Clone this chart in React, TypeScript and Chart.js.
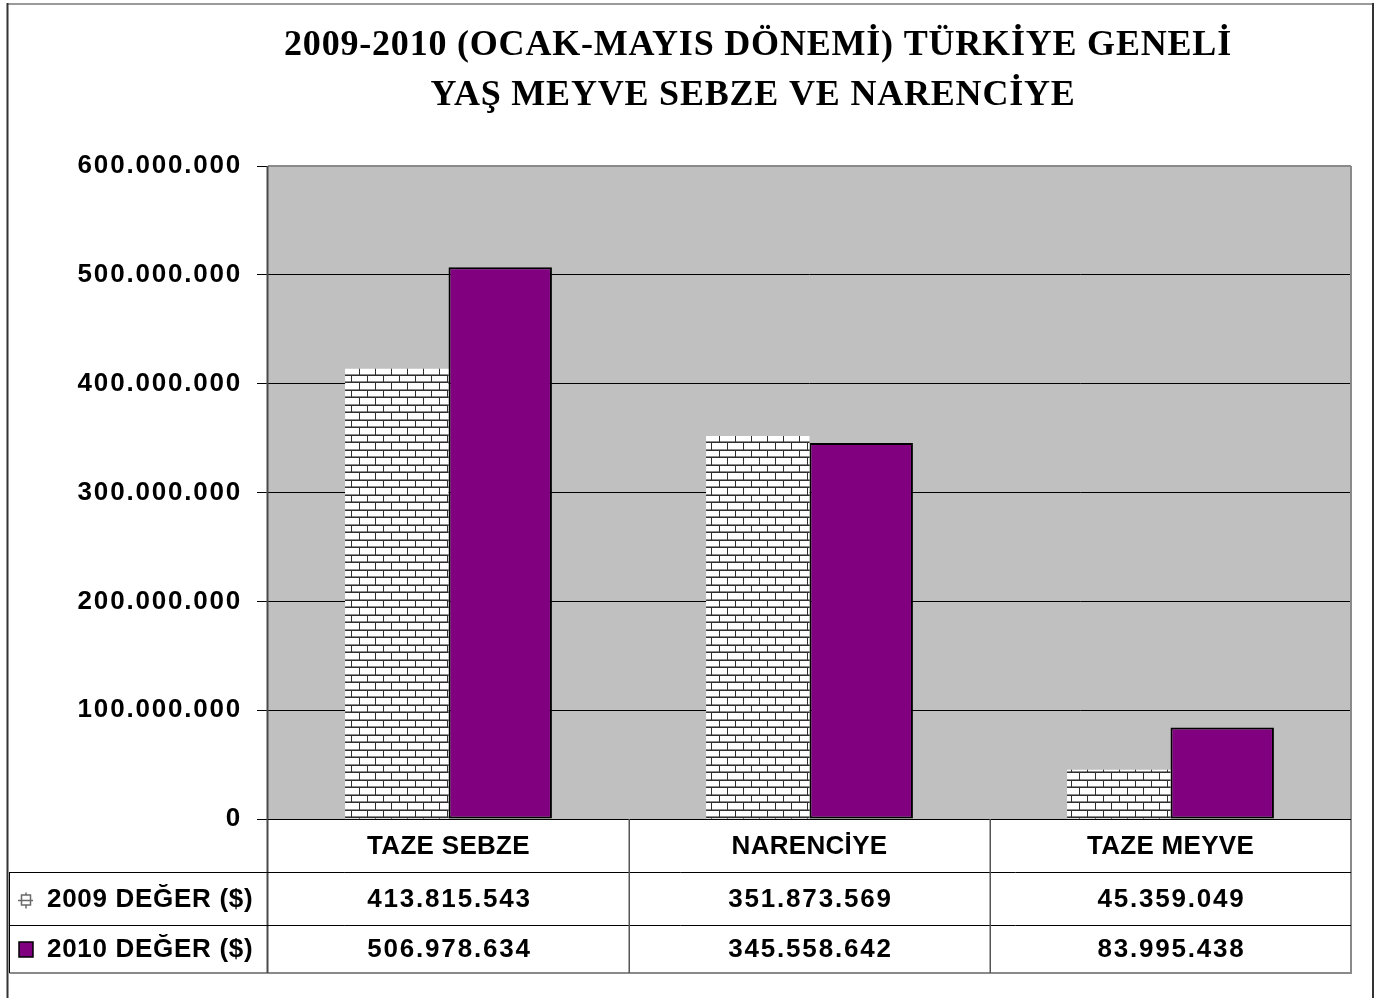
import React, { useEffect, useRef } from "react";
import { Chart, registerables } from "chart.js";

Chart.register(...registerables);

const titleLines = [
  "2009-2010 (OCAK-MAYIS DÖNEMİ) TÜRKİYE GENELİ",
  "YAŞ MEYVE SEBZE VE NARENCİYE",
];
const categories = ["TAZE SEBZE", "NARENCİYE", "TAZE MEYVE"];
const seriesLabels = ["2009 DEĞER ($)", "2010 DEĞER ($)"];
const values2009 = [413815543, 351873569, 45359049];
const values2010 = [506978634, 345558642, 83995438];
const yMin = 0;
const yMax = 600000000;
const yStep = 100000000;

const fmt = (n: number) => String(Math.round(n)).replace(/\B(?=(\d{3})+(?!\d))/g, ".");

const W = 1381;
const H = 998;

function makeBrickPattern(ctx: CanvasRenderingContext2D) {
  const c = document.createElement("canvas");
  c.width = 16;
  c.height = 15;
  const g = c.getContext("2d")!;
  g.fillStyle = "#8c8c8c";
  g.fillRect(0, 0, 16, 15);
  g.fillStyle = "#2e2e2e";
  g.fillRect(0, 0, 16, 1);
  g.fillRect(0, 7, 16, 1);
  g.fillRect(15, 0, 1, 7);
  g.fillRect(7, 7, 1, 8);
  g.fillStyle = "#ffffff";
  g.fillRect(1, 1, 14, 5);
  g.fillRect(8, 8, 8, 6);
  g.fillRect(0, 8, 7, 6);
  g.fillRect(0, 1, 1, 5);
  return ctx.createPattern(c, "repeat")!;
}

const HEADER_BOTTOM = 872;
const ROW1_BOTTOM = 925;
const TABLE_BOTTOM = 973;
const TABLE_LEFT = 9.5;

const tablePlugin = {
  id: "tablePlugin",
  beforeDraw(chart: any) {
    const { ctx, chartArea } = chart;
    ctx.save();
    ctx.fillStyle = "#ffffff";
    ctx.fillRect(0, 0, W, H);
    ctx.fillStyle = "#c0c0c0";
    ctx.fillRect(chartArea.left, chartArea.top, chartArea.right - chartArea.left, chartArea.bottom - chartArea.top);
    ctx.restore();
    ctx.letterSpacing = "1.8px";
  },
  afterDraw(chart: any) {
    const { ctx, chartArea } = chart;
    const xs = chart.scales.x;
    const catW = (chartArea.right - chartArea.left) / categories.length;
    ctx.save();
    ctx.letterSpacing = "0px";

    // plot borders
    ctx.lineWidth = 2;
    ctx.strokeStyle = "#8a8a8a";
    ctx.beginPath();
    ctx.moveTo(chartArea.left, chartArea.top);
    ctx.lineTo(chartArea.right, chartArea.top);
    ctx.moveTo(chartArea.right, chartArea.top);
    ctx.lineTo(chartArea.right, TABLE_BOTTOM);
    ctx.moveTo(TABLE_LEFT, TABLE_BOTTOM);
    ctx.lineTo(chartArea.right + 1, TABLE_BOTTOM);
    ctx.stroke();

    ctx.strokeStyle = "#4a4a4a";
    ctx.beginPath();
    ctx.moveTo(chartArea.left - 0.5, chartArea.top);
    ctx.lineTo(chartArea.left - 0.5, TABLE_BOTTOM);
    ctx.stroke();

    // table lines
    ctx.lineWidth = 1;
    ctx.strokeStyle = "#000";
    ctx.beginPath();
    ctx.moveTo(chartArea.left, chartArea.bottom + 0.5);
    ctx.lineTo(chartArea.right, chartArea.bottom + 0.5);
    ctx.moveTo(TABLE_LEFT, HEADER_BOTTOM + 0.5);
    ctx.lineTo(chartArea.right, HEADER_BOTTOM + 0.5);
    ctx.moveTo(TABLE_LEFT, ROW1_BOTTOM + 0.5);
    ctx.lineTo(chartArea.right, ROW1_BOTTOM + 0.5);
    ctx.moveTo(TABLE_LEFT, HEADER_BOTTOM);
    ctx.lineTo(TABLE_LEFT, TABLE_BOTTOM);
    ctx.stroke();

    ctx.lineWidth = 1.5;
    ctx.strokeStyle = "#555";
    ctx.beginPath();
    for (let i = 1; i < categories.length; i++) {
      const bx = Math.round(chartArea.left + catW * i) + 0.25;
      ctx.moveTo(bx, chartArea.bottom);
      ctx.lineTo(bx, TABLE_BOTTOM);
    }
    ctx.stroke();

    // texts
    ctx.fillStyle = "#000";
    ctx.textBaseline = "middle";
    ctx.textAlign = "center";
    ctx.font = "bold 26px 'Liberation Sans', Arial, sans-serif";
    const hy = (chartArea.bottom + HEADER_BOTTOM) / 2;
    const r1 = (HEADER_BOTTOM + ROW1_BOTTOM) / 2;
    const r2 = (ROW1_BOTTOM + TABLE_BOTTOM) / 2;
    ctx.letterSpacing = "0.3px";
    categories.forEach((c, i) => {
      ctx.fillText(c, xs.getPixelForValue(i), hy + 1);
    });
    ctx.letterSpacing = "1.8px";
    values2009.forEach((v, i) => ctx.fillText(fmt(v), xs.getPixelForValue(i) + 1, r1 + 1));
    values2010.forEach((v, i) => ctx.fillText(fmt(v), xs.getPixelForValue(i) + 1, r2 + 1));

    ctx.textAlign = "left";
    ctx.letterSpacing = "0.7px";
    ctx.fillText(seriesLabels[0], 47, r1 + 1);
    ctx.fillText(seriesLabels[1], 47, r2 + 1);

    // legend keys
    ctx.letterSpacing = "0px";
    ctx.strokeStyle = "#6a6a6a";
    ctx.lineWidth = 1.5;
    ctx.beginPath();
    ctx.moveTo(18, r1 + 2);
    ctx.lineTo(33, r1 + 2);
    ctx.rect(21.5, r1 - 3.5, 9, 10);
    ctx.moveTo(26, r1 - 6);
    ctx.lineTo(26, r1 - 3.5);
    ctx.moveTo(26, r1 + 6.5);
    ctx.lineTo(26, r1 + 10);
    ctx.stroke();

    ctx.fillStyle = "#800080";
    ctx.fillRect(19, r2 - 7, 14, 15);
    ctx.strokeStyle = "#000";
    ctx.lineWidth = 1.5;
    ctx.strokeRect(19, r2 - 7, 14, 15);

    // title
    ctx.fillStyle = "#000";
    ctx.textAlign = "center";
    ctx.font = "bold 36px 'Liberation Serif', 'Times New Roman', serif";
    ctx.letterSpacing = "0.8px";
    ctx.fillText(titleLines[0], 758, 46);
    ctx.fillText(titleLines[1], 753, 96);

    // outer frame
    ctx.letterSpacing = "0px";
    ctx.lineWidth = 2;
    ctx.strokeStyle = "#9a9a9a";
    ctx.beginPath();
    ctx.moveTo(7, 4);
    ctx.lineTo(1373, 4);
    ctx.stroke();
    ctx.strokeStyle = "#333";
    ctx.beginPath();
    ctx.moveTo(7.5, 3);
    ctx.lineTo(7.5, H);
    ctx.moveTo(1373, 3);
    ctx.lineTo(1373, H);
    ctx.stroke();

    ctx.restore();
    ctx.letterSpacing = "1.8px";
  },
};

export default function App() {
  const ref = useRef<HTMLCanvasElement | null>(null);
  useEffect(() => {
    const canvas = ref.current!;
    const ctx = canvas.getContext("2d")!;
    const pattern = makeBrickPattern(ctx);
    const chart = new Chart(canvas, {
      type: "bar",
      data: {
        labels: categories,
        datasets: [
          {
            label: seriesLabels[0],
            data: values2009,
            backgroundColor: pattern as any,
            borderWidth: 0,
            categoryPercentage: 0.573,
            barPercentage: 1,
          },
          {
            label: seriesLabels[1],
            data: values2010,
            backgroundColor: "#800080",
            borderColor: "#000",
            borderWidth: 2,
            borderSkipped: false,
            categoryPercentage: 0.573,
            barPercentage: 1,
          },
        ],
      },
      options: {
        responsive: false,
        animation: false,
        devicePixelRatio: 1,
        layout: { padding: { left: 0, top: 166, right: 30, bottom: 0 } },
        plugins: {
          legend: { display: false },
          title: { display: false },
          tooltip: { enabled: false },
        },
        scales: {
          x: {
            grid: { display: false },
            border: { display: false },
            ticks: { display: false },
            afterFit: (s: any) => {
              s.height = H - 819;
            },
          },
          y: {
            min: yMin,
            max: yMax,
            border: { display: false },
            grid: { color: "#000", lineWidth: 1, tickLength: 11, drawTicks: true },
            ticks: {
              stepSize: yStep,
              padding: 15,
              color: "#000",
              font: { family: "'Liberation Sans', Arial, sans-serif", size: 26, weight: "bold" },
              callback: (v: any) => fmt(Number(v)),
            },
            afterFit: (s: any) => {
              s.width = 268;
            },
          },
        },
      },
      plugins: [tablePlugin],
    });
    return () => chart.destroy();
  }, []);
  return (
    <div style={{ position: "fixed", left: 0, top: 0, width: W, height: H, background: "#fff" }}>
      <canvas ref={ref} width={W} height={H} style={{ display: "block" }} />
    </div>
  );
}
